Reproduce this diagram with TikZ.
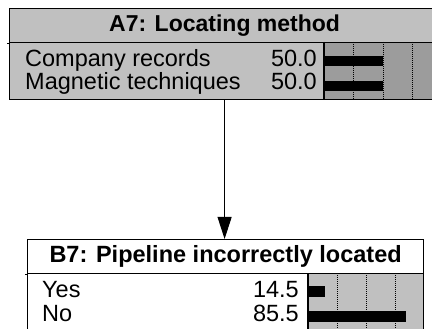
\documentclass[tikz,border=0pt]{standalone}
\usepackage{fontspec}
\setmainfont{Liberation Sans}
\usepackage{xcolor}
\usepackage{tikz}
\usetikzlibrary{arrows.meta,positioning}
\definecolor{lgray}{HTML}{C0C0C0}
\definecolor{dgray}{HTML}{9C9C9C}
\tikzset{
  box/.style={draw,line width=1.2pt,inner sep=0pt,anchor=north west},
  lbl/.style={inner sep=0pt,anchor=base west,font=\fontsize{23.5}{28}\selectfont},
  num/.style={inner sep=0pt,anchor=base east,font=\fontsize{23.5}{28}\selectfont},
  gridline/.style={line width=0.9pt,dash pattern=on 1pt off 1pt},
}
\begin{document}
\begin{tikzpicture}[x=1pt,y=-1pt]
        \useasboundingbox (0,0) rectangle (432,329);
        % A7 fills
        \fill[lgray] (9,8) rectangle (439,99);
        \fill[dgray] (324,42) rectangle (439,99);
        \foreach \x in {353,383,412}
          \draw[gridline] (\x,42) -- (\x,99);
        \fill (325,56) rectangle (383,66);
        \fill (325,81) rectangle (383,91);
        % A7 node
        \node[box,minimum width=430pt,minimum height=34pt,font=\fontsize{23}{28}\selectfont\bfseries] (A7) at (9,8) {A7: Locating method};
        \node[box,minimum width=430pt,minimum height=57pt] (A7b) at (9,42) {};
        \draw[line width=1.2pt] (324,42) -- (324,99);
        \draw[line width=1.2pt] (A7.south west) -- ++(-2,0);
        \node[lbl] (cr) at (25,67) {Company records};
        \node[num] (crv) at (317,67) {50.0};
        \node[lbl] (mt) at (25,90) {Magnetic techniques};
        \node[num] (mtv) at (317,90) {50.0};
        % B7 fills
        \fill[white] (27,239) rectangle (423,340);
        \fill[lgray] (308,273) rectangle (423,340);
        \foreach \x in {337,366,395}
          \draw[gridline] (\x,273) -- (\x,340);
        \fill (309,286) rectangle (325,297);
        \fill (309,311) rectangle (406,322);
        % B7 node
        \node[box,minimum width=396pt,minimum height=34pt,font=\fontsize{23.5}{28}\selectfont\bfseries] (B7) at (27,239) {B7: Pipeline incorrectly located};
        \node[box,minimum width=396pt,minimum height=67pt] (B7b) at (27,273) {};
        \draw[line width=1.2pt] (308,273) -- (308,340);
        \draw[line width=1.2pt] (B7.south west) -- ++(-2,0);
        \node[lbl] (yes) at (42,297.5) {Yes};
        \node[num] (yesv) at (299,297.5) {14.5};
        \node[lbl] (no) at (42,321.5) {No};
        \node[num] (nov) at (299,321.5) {85.5};
        % link
        \draw[line width=1pt,-{Triangle[length=22pt,width=14pt]}] (A7b.south) -- (A7b.south |- B7.north);
      \end{tikzpicture}
\end{document}
